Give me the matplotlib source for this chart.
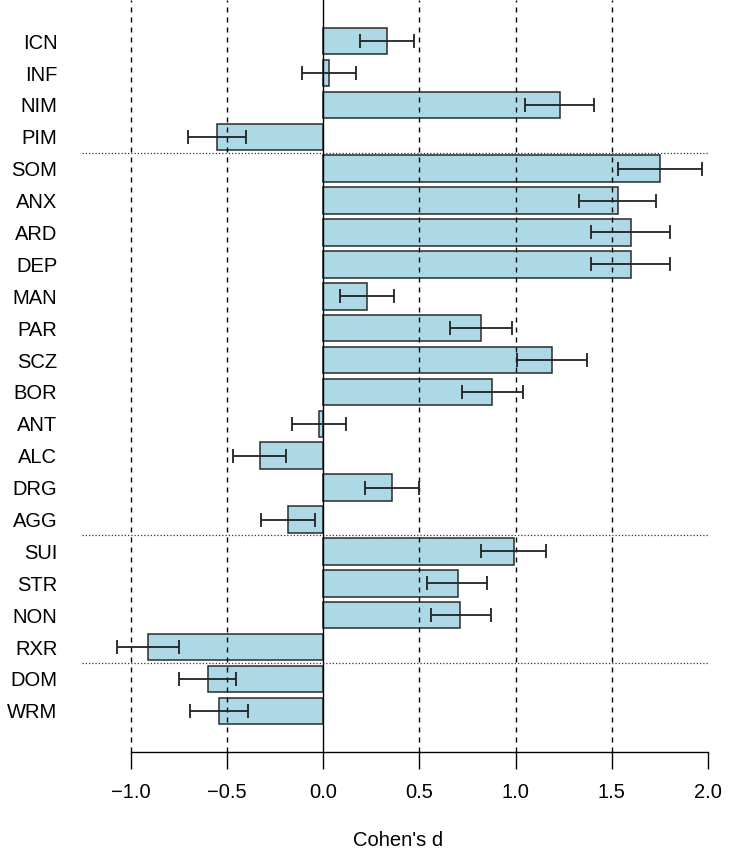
import matplotlib
matplotlib.use("Agg")
import matplotlib.pyplot as plt
import numpy as np

categories = ["ICN", "INF", "NIM", "PIM", "SOM", "ANX", "ARD", "DEP", "MAN", "PAR",
              "SCZ", "BOR", "ANT", "ALC", "DRG", "AGG", "SUI", "STR", "NON", "RXR",
              "DOM", "WRM"]
cohens_d = [0.33, 0.03, 1.23, -0.55, 1.75, 1.53, 1.60, 1.60, 0.23, 0.82,
            1.19, 0.88, -0.02, -0.33, 0.36, -0.18, 0.99, 0.70, 0.71, -0.91,
            -0.60, -0.54]
ci_low = [0.19, -0.11, 1.05, -0.70, 1.53, 1.33, 1.39, 1.39, 0.09, 0.66,
          1.01, 0.72, -0.16, -0.47, 0.22, -0.32, 0.82, 0.54, 0.56, -1.07,
          -0.75, -0.69]
ci_high = [0.47, 0.17, 1.41, -0.40, 1.97, 1.73, 1.80, 1.80, 0.37, 0.98,
           1.37, 1.04, 0.12, -0.19, 0.50, -0.04, 1.16, 0.85, 0.87, -0.75,
           -0.45, -0.39]
separators_after = ["PIM", "AGG", "RXR"]
xticks = [-1.0, -0.5, 0.0, 0.5, 1.0, 1.5, 2.0]
grid_x = [-1.0, -0.5, 0.5, 1.0, 1.5]

plt.rcParams['font.family'] = ['Liberation Sans', 'DejaVu Sans']

fig = plt.figure(figsize=(7.3, 8.5), dpi=100)
ax = fig.add_axes([82.4 / 730, (850 - 752) / 850, 631.4 / 730, 752 / 850])

n = len(categories)
ypos = np.arange(n)[::-1]
d = np.array(cohens_d)
lo = np.array(ci_low)
hi = np.array(ci_high)

ax.barh(ypos, d, height=1 / 1.2, color="#ADD8E6", edgecolor="#2b2b2b",
        linewidth=1.1, zorder=2)

for gx in grid_x:
    ax.axvline(gx, color="black", linewidth=1.0, linestyle=(0, (3.6, 3.6)), zorder=3)
ax.axvline(0, color="black", linewidth=1.0, zorder=4)

ax.errorbar(d, ypos, xerr=[d - lo, hi - d], fmt="none", ecolor="#222222",
            elinewidth=1.3, capsize=5, capthick=1.3, zorder=5)

for name in separators_after:
    i = categories.index(name)
    yy = ypos[i] - 0.5
    ax.plot([-1.25, 2.0], [yy, yy], color="#333333", linewidth=0.9,
            linestyle=(0, (1, 1.6)), zorder=3)

ax.set_xlim(-1.25, 2.03)
ax.set_ylim(-1.29, n - 1 + 1.29)

ax.set_yticks(ypos)
ax.set_yticklabels(categories, fontsize=14.5)
ax.tick_params(axis="y", length=0, pad=18)

ax.set_xticks(xticks)
ax.set_xticklabels(["\u22121.0", "\u22120.5", "0.0", "0.5", "1.0", "1.5", "2.0"], fontsize=14.5)
ax.tick_params(axis="x", length=12, width=1.0, pad=10, direction="out")

for s in ["top", "right", "left"]:
    ax.spines[s].set_visible(False)
ax.spines["bottom"].set_bounds(-1.0, 2.0)
ax.spines["bottom"].set_linewidth(1.0)

fig.text(398 / 730, (850 - 840) / 850, "Cohen's d", ha="center", va="center", fontsize=14.5)

fig.savefig("out.png", dpi=100)
